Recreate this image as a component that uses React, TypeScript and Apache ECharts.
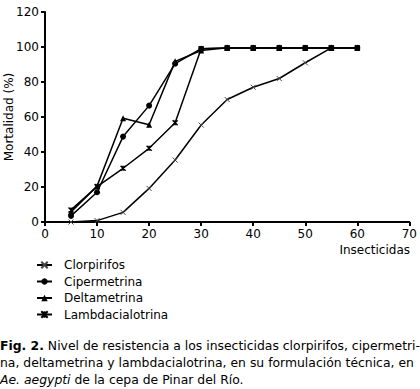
import React, { useEffect, useRef } from "react";
import * as echarts from "echarts";

const doses = [5, 10, 15, 20, 25, 30, 35, 40, 45, 50, 55, 60];
const clorpirifos = [0, 0.8, 5.5, 19.2, 35.4, 55.4, 70, 77, 82, 91, 99.5];
const cipermetrina = [3.5, 17, 48.8, 66.5, 90.5, 99, 99.5, 99.5, 99.5, 99.5, 99.5, 99.5];
const deltametrina = [5.8, 20.5, 59.3, 55.6, 91.8, 98, 99.5, 99.5, 99.5, 99.5, 99.5, 99.5];
const lambdacialotrina = [6.9, 20.2, 30.7, 42.1, 56.7, 99, 99.5, 99.5, 99.5, 99.5, 99.5, 99.5];
const seriesNames = ["Clorpirifos", "Cipermetrina", "Deltametrina", "Lambdacialotrina"];
const xTicks = [0, 10, 20, 30, 40, 50, 60, 70];
const yTicks = [0, 20, 40, 60, 80, 100, 120];

const FONT = "DejaVu Sans";
const CAP = 12.4;

const pair = (ys: number[]) => ys.map((y, i) => [doses[i], y]);

export default function App() {
  const ref = useRef<HTMLDivElement>(null);
  useEffect(() => {
    document.body.style.margin = "0";
    const chart = echarts.init(ref.current!, null, { renderer: "svg" });
    const lineStyle = { color: "#000", width: 1.5 };
    const mk = (name: string, data: number[], symbol: string, size: number, extra: any = {}) => ({
      name,
      type: "line",
      data: pair(data),
      symbol,
      symbolSize: size,
      lineStyle,
      itemStyle: { color: "#000", borderColor: "#000", borderWidth: 0, ...extra },
      z: 2,
    });
    chart.setOption({
      animation: false,
      backgroundColor: "#fff",
      grid: { left: 45, right: 10, top: 12, bottom: 167 },
      xAxis: {
        type: "value",
        min: 0,
        max: 70,
        interval: 10,
        axisLine: { lineStyle: { color: "#000", width: 2 } },
        axisTick: { show: true, length: 4, lineStyle: { color: "#000", width: 2 } },
        axisLabel: { color: "#000", fontFamily: FONT, fontSize: 12, margin: 6, formatter: (v: number) => (xTicks.includes(v) ? String(v) : "") },
        splitLine: { show: false },
      },
      yAxis: {
        type: "value",
        min: 0,
        max: 120,
        interval: 20,
        axisLine: { show: true, lineStyle: { color: "#000", width: 2 } },
        axisTick: { show: true, length: 4, lineStyle: { color: "#000", width: 2 } },
        axisLabel: { color: "#000", fontFamily: FONT, fontSize: 12, margin: 6, formatter: (v: number) => (yTicks.includes(v) ? String(v) : "") },
        splitLine: { show: false },
      },
      legend: {
        orient: "vertical",
        left: 36,
        top: 258,
        padding: 0,
        itemWidth: 15,
        itemHeight: 8,
        itemGap: 2.5,
        data: seriesNames,
        textStyle: { color: "#000", fontFamily: FONT, fontSize: 12, lineHeight: 14, padding: [0, 0, 0, 7] },
      },
      series: [
        mk(seriesNames[0], clorpirifos, "path://M0,0L10,10M10,0L0,10", 5, { borderColor: "#444", borderWidth: 1, color: "#444" }),
        mk(seriesNames[1], cipermetrina, "circle", 6),
        mk(seriesNames[2], deltametrina, "triangle", 6),
        mk(seriesNames[3], lambdacialotrina, "path://M0,0L10,10M10,0L0,10M5,0L5,10", 5, { borderColor: "#000", borderWidth: 1.5 }),
      ],
      graphic: [
        {
          type: "text",
          x: 9,
          y: 117,
          rotation: Math.PI / 2,
          style: { text: "Mortalidad (%)", fill: "#000", fontFamily: FONT, fontSize: 12, align: "center", verticalAlign: "middle" },
        },
        {
          type: "text",
          x: 410,
          y: 244,
          style: { text: "Insecticidas", fill: "#000", fontFamily: FONT, fontSize: 12, align: "right", verticalAlign: "top" },
        },
        {
          type: "text",
          x: 0,
          y: 337,
          style: {
            text: "{b|Fig. 2.}{n| Nivel de resistencia a los insecticidas clorpirifos, cipermetri-}\n{n|na, deltametrina y lambdacialotrina, en su formulación técnica, en}\n{i|Ae. aegypti}{n| de la cepa de Pinar del Río.}",
            fill: "#000",
            fontFamily: FONT,
            fontSize: CAP,
            lineHeight: 17,
            rich: {
              n: { fontFamily: FONT, fontSize: CAP, lineHeight: 17, fill: "#000" },
              b: { fontWeight: "bold", fontFamily: FONT, fontSize: CAP, lineHeight: 17 },
              i: { fontStyle: "italic", fontFamily: FONT, fontSize: CAP, lineHeight: 17 },
            },
          },
        },
      ],
    });
    return () => chart.dispose();
  }, []);
  return <div ref={ref} style={{ width: 420, height: 389 }} />;
}
